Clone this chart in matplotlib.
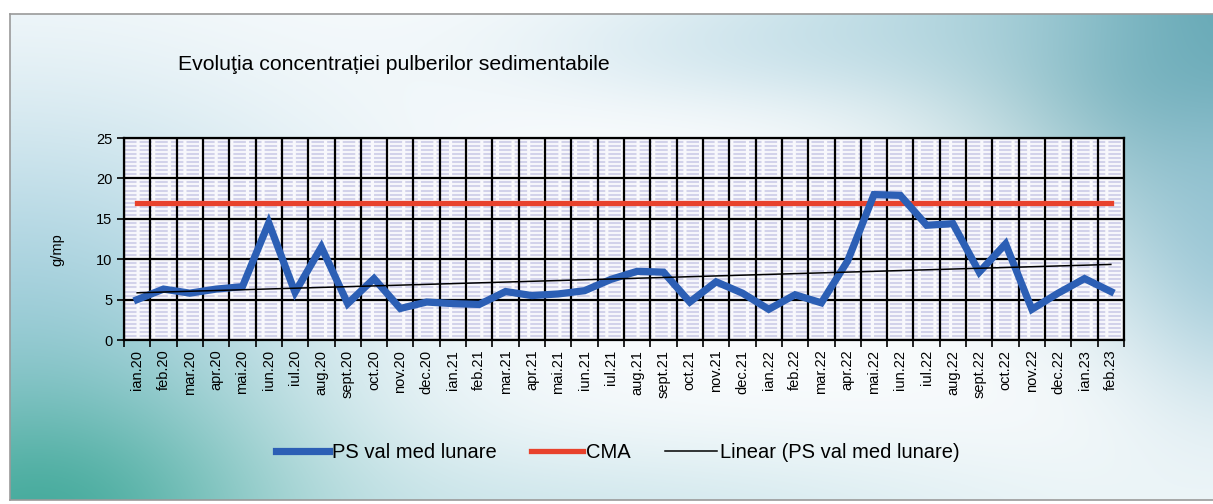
import numpy as np
import matplotlib
matplotlib.use("Agg")
from matplotlib import pyplot as plt
from matplotlib.ticker import MultipleLocator, FixedLocator

plt.rcParams['font.family'] = ['Liberation Sans', 'DejaVu Sans']

# monthly labels ian.20 .. feb.23
months = ["ian.20", "feb.20", "mar.20", "apr.20", "mai.20", "iun.20", "iul.20", "aug.20",
          "sept.20", "oct.20", "nov.20", "dec.20",
          "ian.21", "feb.21", "mar.21", "apr.21", "mai.21", "iun.21", "iul.21", "aug.21",
          "sept.21", "oct.21", "nov.21", "dec.21",
          "ian.22", "feb.22", "mar.22", "apr.22", "mai.22", "iun.22", "iul.22", "aug.22",
          "sept.22", "oct.22", "nov.22", "dec.22",
          "ian.23", "feb.23"]

# PS monthly mean values (g/mp)
ps_vals = [5.0, 6.3, 5.8, 6.3, 6.6, 14.5, 5.9, 11.5, 4.5, 7.6, 3.9, 4.7,
           4.5, 4.4, 6.0, 5.5, 5.7, 6.1, 7.5, 8.5, 8.4, 4.7, 7.2, 5.8,
           3.8, 5.6, 4.6, 9.8, 18.0, 17.9, 14.2, 14.4, 8.4, 11.9, 3.8, 5.8,
           7.6, 6.0]
cma_val = 17.0
cma = [cma_val] * len(months)

x = np.arange(len(months))
slope, icpt = np.polyfit(x, ps_vals, 1)
trend = slope * x + icpt

W, H = 1213, 504
fig = plt.figure(figsize=(W / 100, H / 100), dpi=100)
fig.patch.set_facecolor('white')

# slide background: white with teal washes (left/bottom and top right)
def blob(xx, yy, cx, cy, sx, sy):
    return np.exp(-(((xx - cx) / sx) ** 2 + ((yy - cy) / sy) ** 2))

h, w = 160, 400
yy, xx = np.mgrid[0:1:h*1j, 0:1:w*1j]   # yy = 0 at top
img = np.ones((h, w, 3)) * np.array([0.985, 0.99, 0.995])
layers = [
    # colour, weight
    (np.array([0.64, 0.81, 0.87]), 0.9 * blob(xx, yy, 0.0, 0.65, 0.28, 0.5)),
    (np.array([0.72, 0.86, 0.89]), 0.6 * blob(xx, yy, 0.45, 1.05, 0.45, 0.18)),
    (np.array([0.80, 0.89, 0.93]), 0.5 * blob(xx, yy, 0.62, 0.08, 0.22, 0.12)),
    (np.array([0.25, 0.66, 0.60]), 0.95 * blob(xx, yy, 0.02, 1.05, 0.20, 0.32)),
    (np.array([0.30, 0.60, 0.65]), 0.95 * blob(xx, yy, 1.02, 0.0, 0.22, 0.45)),
    (np.array([0.55, 0.75, 0.82]), 0.7 * blob(xx, yy, 1.02, 0.45, 0.10, 0.35)),
    (np.array([0.62, 0.80, 0.85]), 0.45 * blob(xx, yy, 0.78, 0.0, 0.25, 0.15)),
]
for col, a in layers:
    a = np.clip(a, 0, 1)[..., None]
    img = img * (1 - a) + col[None, None, :] * a
img = np.clip(img, 0, 1)

bg = fig.add_axes([10 / W, 4 / H, 1 - 10 / W, 1 - 18 / H], zorder=-10)
bg.imshow(img, aspect='auto', extent=[0, 1, 0, 1], origin='upper', interpolation='bicubic')
bg.set_xlim(0, 1)
bg.set_ylim(0, 1)
bg.set_xticks([])
bg.set_yticks([])
for s in bg.spines.values():
    s.set_color('#9a9a9a')
    s.set_linewidth(1.2)
bg.spines['right'].set_visible(False)

ax = fig.add_axes([124 / W, 1 - 340 / H, 1000 / W, 202 / H])
ax.set_facecolor('#f8f8fc')

ax.plot(x, ps_vals, color='#2c5fb5', lw=5.2, solid_joinstyle='miter', zorder=5,
        label="PS val med lunare")
ax.plot(x, cma, color='#e8422c', lw=3.8, zorder=4, label="CMA")
ax.plot(x, trend, color='black', lw=1.1, zorder=6, label="Linear (PS val med lunare)")

ax.set_xlim(-0.5, len(months) - 0.5)
ax.set_ylim(0, 25)
ax.yaxis.set_major_locator(MultipleLocator(5))
ax.yaxis.set_minor_locator(MultipleLocator(0.5))
ax.set_xticks(x)
ax.set_xticklabels(months, rotation=90, fontsize=10.5)
ax.xaxis.set_minor_locator(FixedLocator(np.arange(-0.5, len(months), 1)))
ax.tick_params(axis='x', which='major', length=0, pad=7)
ax.tick_params(axis='x', which='minor', length=5, width=1.2, direction='out')
ax.tick_params(axis='y', which='major', length=5, width=1.2, labelsize=10.5)
ax.tick_params(axis='y', which='minor', length=0)

# light dashed stripes, then the black grid on top of them
ax.grid(True, which='minor', axis='y', color='#d2d2ea', lw=1.5, ls=(0, (6, 1.5)))
ax.set_axisbelow(True)
ax.vlines(np.arange(-0.5, len(months), 1), 0, 25, color='black', lw=1.6, zorder=1)
ax.hlines(np.arange(0, 26, 5), -0.5, len(months) - 0.5, color='black', lw=1.6, zorder=1)
for s in ax.spines.values():
    s.set_linewidth(1.6)
    s.set_color('black')

fig.text(57 / W, 0.505, "g/mp", rotation=90, ha='center', va='center', fontsize=10.5)
fig.text(178 / W, 1 - 65 / H, "Evoluţia concentrației pulberilor sedimentabile",
         ha='left', va='center', fontsize=15.3)

leg = fig.legend(loc='center', bbox_to_anchor=(618 / W, 1 - 453 / H), ncol=3, frameon=False,
                 fontsize=14.5, handlelength=2.6, handletextpad=0.15, columnspacing=1.7)

fig.savefig("out.png", dpi=100)
